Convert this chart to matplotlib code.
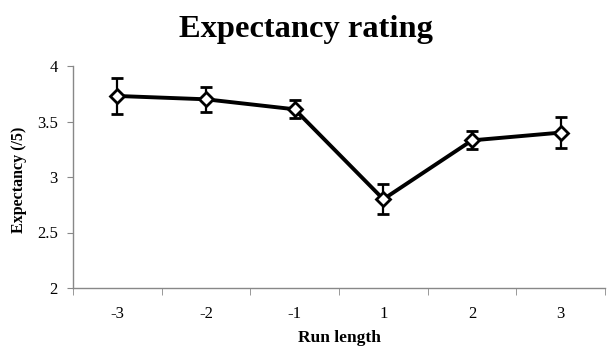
import numpy as np
import matplotlib
matplotlib.use('Agg')
import matplotlib.pyplot as plt

plt.rcParams['font.family'] = ['Liberation Serif', 'DejaVu Serif']

run_length = ['-3', '-2', '-1', '1', '2', '3']
expectancy = [3.73, 3.70, 3.61, 2.80, 3.33, 3.40]
err = [0.16, 0.11, 0.08, 0.135, 0.08, 0.14]

fig = plt.figure(figsize=(6.09, 3.47), dpi=100)
ax = fig.add_axes([73 / 609, 59 / 347, 532 / 609, 222 / 347])

x = np.arange(len(run_length))
ax.errorbar(x, expectancy, yerr=err, color='black', linewidth=2.8,
            marker='D', markersize=7.5, markerfacecolor='white',
            markeredgecolor='black', markeredgewidth=2,
            ecolor='black', elinewidth=1.6, capsize=4.5, capthick=1.6, zorder=3)

ax.set_xlim(-0.5, len(run_length) - 0.5)
ax.set_ylim(2, 4)
ax.set_yticks([2, 2.5, 3, 3.5, 4])
ax.set_yticklabels(['2', '2.5', '3', '3.5', '4'])
ax.set_xticks(x)
ax.set_xticklabels(run_length)
ax.set_xticks(np.arange(-0.5, len(run_length)), minor=True)
ax.tick_params(axis='x', which='major', length=0, pad=13, labelsize=12)
ax.tick_params(axis='x', which='minor', length=5, color='#888888', direction='out')
ax.tick_params(axis='y', length=4, color='#888888', direction='out', labelsize=12, pad=7)
ax.grid(False)

for side in ['top', 'right']:
    ax.spines[side].set_visible(False)
for side in ['left', 'bottom']:
    ax.spines[side].set_color('#888888')
    ax.spines[side].set_linewidth(1)

fig.text(0.5 * (73 + 605) / 609, 5 / 347, 'Run length', fontsize=12.5,
         fontweight='bold', ha='center', va='baseline')
fig.text(19 / 609, 1 - 180 / 347, 'Expectancy (/5)', fontsize=11.5,
         fontweight='bold', rotation=90, ha='center', va='center')
fig.text(306 / 609, 0.893, 'Expectancy rating', fontsize=23.4,
         fontweight='bold', ha='center', va='baseline')

fig.savefig('out.png', dpi=100)
